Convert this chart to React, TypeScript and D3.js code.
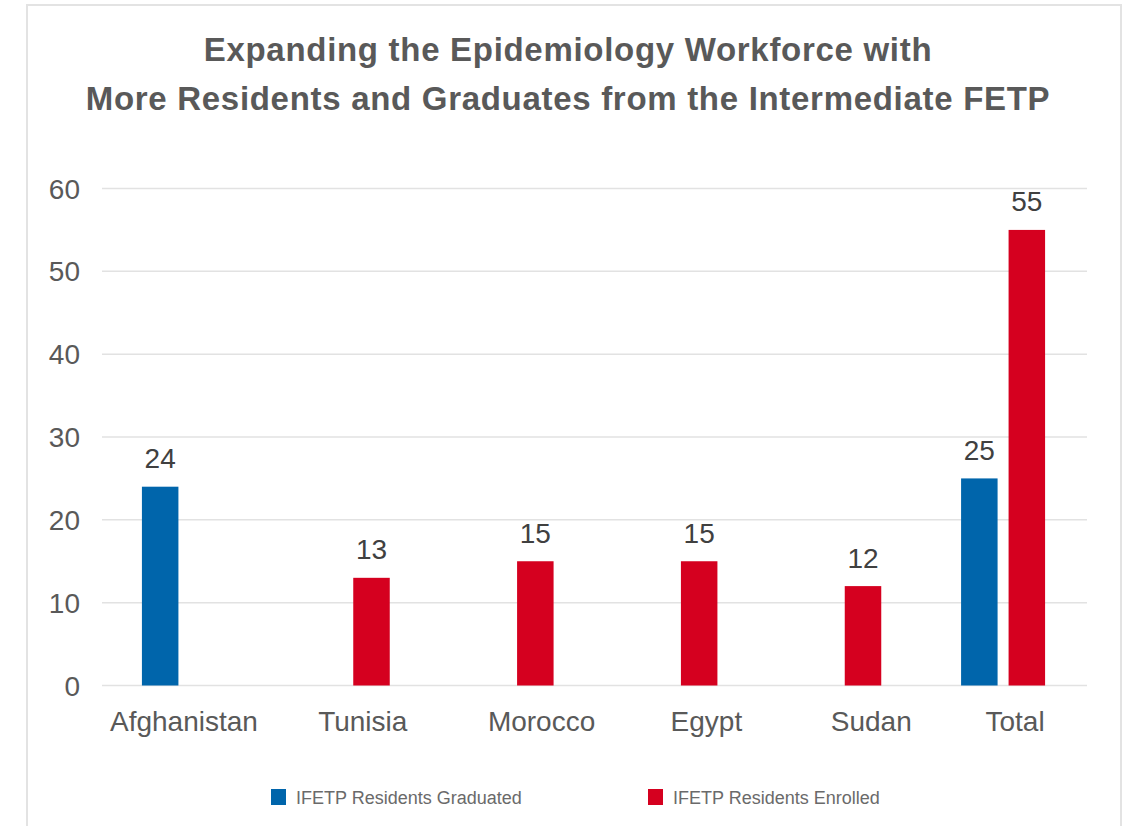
import React from "react";
import * as d3 from "d3";

const categories = ["Afghanistan", "Tunisia", "Morocco", "Egypt", "Sudan", "Total"];
const seriesNames = ["IFETP Residents Graduated", "IFETP Residents Enrolled"];
const graduated: (number | null)[] = [24, null, null, null, null, 25];
const enrolled: (number | null)[] = [null, 13, 15, 15, 12, 55];
const yTicks = [0, 10, 20, 30, 40, 50, 60];
const titleLines = [
  "Expanding the Epidemiology Workforce with",
  "More Residents and Graduates from the Intermediate FETP",
];
const colors = ["#0065AB", "#D5001F"];

const W = 1125;
const H = 826;
const left = 102;
const right = 1085;
const gridRight = 1087;
const top = 188.5;
const bottom = 685.5;
// layout nudge of category labels relative to band centre (as in the reference)
const labelNudge = [0, 15, 30, 31, 32, 12];

export default function App() {
  const x0 = d3.scaleBand<string>().domain(categories).range([left, right]).padding(0);
  const bw = x0.bandwidth();
  const groupW = 84;
  const x1 = d3
    .scaleBand<string>()
    .domain(seriesNames)
    .range([(bw - groupW) / 2, (bw + groupW) / 2])
    .paddingInner(11 / 47.5)
    .paddingOuter(0);
  const y = d3.scaleLinear().domain([0, 60]).range([bottom, top]);
  const seriesData = [graduated, enrolled];

  return (
    <svg
      width={W}
      height={H}
      style={{ position: "absolute", left: 0, top: 0, background: "#fff" }}
      fontFamily="'Liberation Sans', Arial, sans-serif"
    >
      <rect x={27} y={5} width={1094} height={H + 20} fill="#fff" stroke="#e3e3e3" strokeWidth={2} />
      {titleLines.map((t, i) => (
        <text
          key={i}
          x={568}
          y={61 + i * 49}
          textAnchor="middle"
          fontSize={33}
          fontWeight="bold"
          letterSpacing={0.7}
          fill="#595959"
        >
          {t}
        </text>
      ))}
      {yTicks.map((t) => (
        <g key={t}>
          <line x1={left} x2={gridRight} y1={y(t)} y2={y(t)} stroke="#e2e2e2" strokeWidth={1.5} />
          <text x={80} y={y(t) + 10} textAnchor="end" fontSize={28} fill="#595959">
            {t}
          </text>
        </g>
      ))}
      {categories.map((c, ci) => (
        <g key={c} transform={`translate(${x0(c)},0)`}>
          {seriesNames.map((s, si) => {
            const v = seriesData[si][ci];
            if (v == null) return null;
            const bx = x1(s)!;
            return (
              <g key={s}>
                <rect x={bx} y={y(v)} width={x1.bandwidth()} height={y(0) - y(v)} fill={colors[si]} />
                <text
                  x={bx + x1.bandwidth() / 2}
                  y={y(v) - 18.5}
                  textAnchor="middle"
                  fontSize={28}
                  fill="#404040"
                >
                  {v}
                </text>
              </g>
            );
          })}
          <text x={bw / 2 + labelNudge[ci]} y={731} textAnchor="middle" fontSize={28} fill="#595959">
            {c}
          </text>
        </g>
      ))}
      {seriesNames.map((s, i) => {
        const lx = [271, 648][i];
        return (
          <g key={s}>
            <rect x={lx} y={789} width={15} height={16} fill={colors[i]} />
            <text x={lx + 25} y={804} fontSize={18} fill="#6a6a6a">
              {s}
            </text>
          </g>
        );
      })}
    </svg>
  );
}
